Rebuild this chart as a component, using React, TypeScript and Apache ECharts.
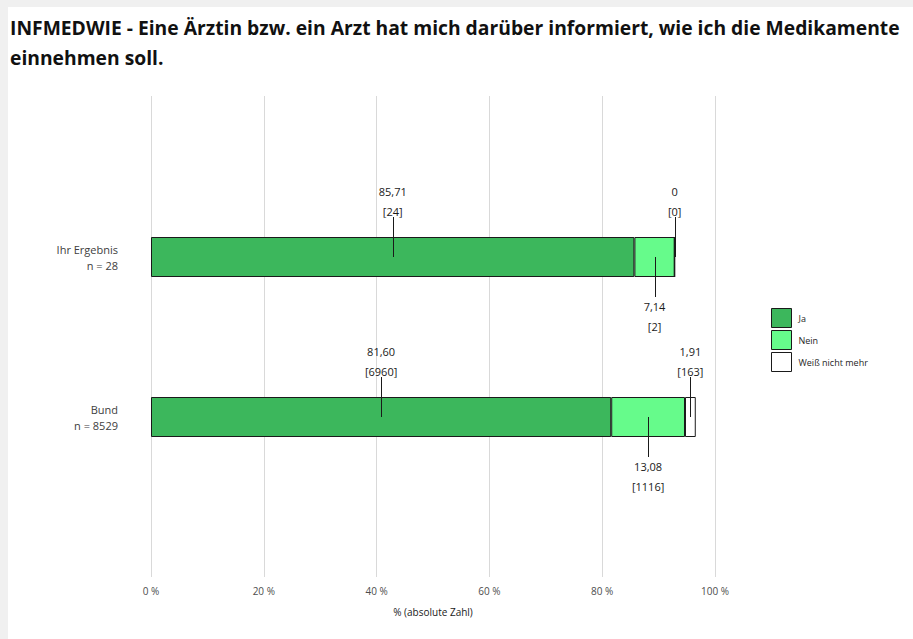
import React, { useEffect, useRef } from "react";
import * as echarts from "echarts";

const titleLines = [
  "INFMEDWIE - Eine Ärztin bzw. ein Arzt hat mich darüber informiert, wie ich die Medikamente",
  "einnehmen soll.",
];
const categories = ["Ihr Ergebnis\nn = 28", "Bund\nn = 8529"];
const seriesNames = ["Ja", "Nein", "Weiß nicht mehr"];
const jaValues = [85.71, 81.6];
const neinValues = [7.14, 13.08];
const wnmValues = [0, 1.91];
const jaCounts = [24, 6960];
const neinCounts = [2, 1116];
const wnmCounts = [0, 163];
const xTicks = [0, 20, 40, 60, 80, 100];
const axisName = "% (absolute Zahl)";

const colors = ["#3cb75c", "#66fb8b", "#ffffff"];
const labelSides = [-1, 1, -1]; // -1 above, 1 below
const FONT = "'Open Sans', 'Noto Sans', sans-serif";

function fmt(v: number): string {
  return v === 0 ? "0" : v.toFixed(2).replace(".", ",");
}

export default function App() {
  const ref = useRef<HTMLDivElement>(null);
  useEffect(() => {
    if (!ref.current) return;
    const chart = echarts.init(ref.current, undefined, { renderer: "svg" });
    const values = [jaValues, neinValues, wnmValues];
    const counts = [jaCounts, neinCounts, wnmCounts];

    const labelItems: { center: number; cat: number; side: number; t1: string; t2: string }[] = [];
    categories.forEach((_, ci) => {
      let cum = 0;
      values.forEach((arr, si) => {
        const v = arr[ci];
        labelItems.push({
          center: cum + v / 2,
          cat: ci,
          side: labelSides[si],
          t1: fmt(v),
          t2: "[" + counts[si][ci] + "]",
        });
        cum += v;
      });
    });

    const barSeries = seriesNames.map((name, si) => ({
      name,
      type: "bar",
      stack: "total",
      xAxisIndex: 1,
      yAxisIndex: 1,
      barWidth: 40,
      data: values[si],
      itemStyle: { color: colors[si], borderColor: "#1a1a1a", borderWidth: 1 },
      label: { show: false },
      emphasis: { disabled: true },
    }));

    chart.setOption({
      animation: false,
      backgroundColor: "#ffffff",
      title: {
        text: titleLines.join("\n"),
        left: 2,
        top: 5,
        padding: 0,
        textStyle: {
          fontFamily: FONT,
          fontWeight: "bold",
          fontSize: 19.3,
          lineHeight: 30,
          color: "#111111",
        },
      },
      legend: {
        data: seriesNames,
        orient: "vertical",
        left: 763,
        top: 301,
        padding: 0,
        itemWidth: 20,
        itemHeight: 19,
        itemGap: 2,
        icon: "rect",
        selectedMode: false,
        itemStyle: { borderColor: "#1a1a1a", borderWidth: 1 },
        textStyle: { fontFamily: FONT, fontSize: 9, color: "#262626", padding: [0, 0, 0, 2] },
      },
      grid: [
        { left: 143, top: 89, width: 564, height: 481 },
        { left: 143, top: 170, width: 564, height: 320 },
      ],
      xAxis: [
        {
          type: "value",
          gridIndex: 0,
          min: xTicks[0],
          max: xTicks[xTicks.length - 1],
          interval: xTicks[1] - xTicks[0],
          axisLine: { show: false },
          axisTick: { show: false },
          splitLine: { show: true, lineStyle: { color: "#d9d9d9", width: 1 } },
          axisLabel: {
            formatter: "{value} %",
            fontFamily: FONT,
            fontSize: 10,
            color: "#4d4d4d",
            margin: 9,
          },
          name: axisName,
          nameLocation: "middle",
          nameGap: 30,
          nameTextStyle: { fontFamily: FONT, fontSize: 10, color: "#1a1a1a" },
        },
        {
          type: "value",
          gridIndex: 1,
          min: xTicks[0],
          max: xTicks[xTicks.length - 1],
          show: false,
        },
      ],
      yAxis: [
        { type: "value", gridIndex: 0, show: false },
        {
          type: "category",
          gridIndex: 1,
          inverse: true,
          data: categories,
          axisLine: { show: false },
          axisTick: { show: false },
          splitLine: { show: false },
          axisLabel: {
            fontFamily: FONT,
            fontSize: 11,
            color: "#404040",
            lineHeight: 16,
            align: "right",
            margin: 33,
          },
        },
      ],
      series: [
        ...barSeries,
        {
          type: "custom",
          name: "labels",
          xAxisIndex: 1,
          yAxisIndex: 1,
          silent: true,
          z: 10,
          data: labelItems.map((l) => [l.center, l.cat]),
          renderItem: (params: any, api: any) => {
            const l = labelItems[params.dataIndex];
            const p = api.coord([l.center, l.cat]);
            const s = l.side;
            const x = Math.round(p[0]) + 0.5;
            return {
              type: "group",
              children: [
                {
                  type: "line",
                  shape: { x1: x, y1: p[1], x2: x, y2: p[1] + s * 40 },
                  style: { stroke: "#1a1a1a", lineWidth: 1 },
                },
                {
                  type: "text",
                  x: p[0],
                  y: p[1] + s * (s < 0 ? 66 : 49),
                  style: {
                    text: l.t1,
                    fill: "#1a1a1a",
                    fontFamily: FONT,
                    fontSize: 11,
                    align: "center",
                    verticalAlign: "middle",
                  },
                },
                {
                  type: "text",
                  x: p[0],
                  y: p[1] + s * (s < 0 ? 46 : 69),
                  style: {
                    text: l.t2,
                    fill: "#1a1a1a",
                    fontFamily: FONT,
                    fontSize: 11,
                    align: "center",
                    verticalAlign: "middle",
                  },
                },
              ],
            };
          },
        },
      ],
    });
    return () => chart.dispose();
  }, []);

  return (
    <div
      style={{
        position: "fixed",
        left: 0,
        top: 0,
        width: 913,
        height: 639,
        background: "#f0f0f0",
      }}
    >
      <div
        ref={ref}
        style={{ position: "absolute", left: 8, top: 7, width: 905, height: 632, background: "#ffffff" }}
      />
    </div>
  );
}
